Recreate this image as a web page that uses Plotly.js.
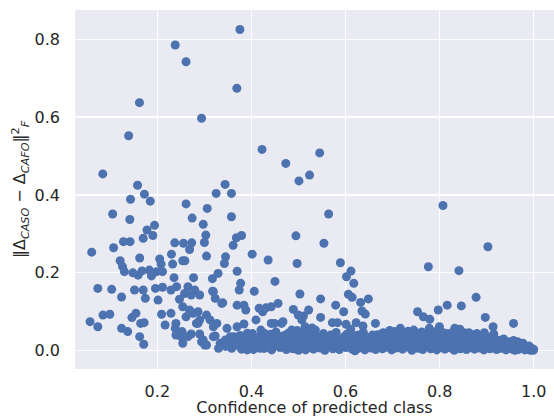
<!DOCTYPE html>
<html>
<head>
<meta charset="utf-8">
<script src="https://cdn.plot.ly/plotly-3.0.1.min.js"></script>
<style>html,body{margin:0;padding:0;background:#fff;}#chart{width:554px;height:417px;}</style>
</head>
<body>
<div id="chart"></div>
<script>
// Outliers (high values)
const highX = [0.3755,0.238,0.261,0.369,0.162,0.294,0.139,0.084,0.4225,0.473,0.501,0.5235,0.545,0.158,0.1725,0.143,0.185,0.344,0.325,0.3575,0.261,0.105,0.1415,0.194,0.178,0.306,0.274,0.2975,0.3575,0.807,0.564];
const highY = [0.825,0.785,0.742,0.674,0.637,0.597,0.552,0.454,0.517,0.481,0.436,0.451,0.508,0.425,0.402,0.389,0.384,0.427,0.404,0.404,0.377,0.351,0.337,0.322,0.310,0.3655,0.3405,0.3245,0.344,0.373,0.351];

// Middle values
const midX = [0.1905,0.170,0.128,0.142,0.107,0.0605,0.1625,0.121,0.126,0.130,0.148,0.159,0.1675,0.183,0.1875,0.1985,0.211,0.205,0.208,0.230,0.2325,0.237,0.2555,0.273,0.2685,0.254,0.2585,0.303,0.300,0.3045,0.379,0.368,0.361,0.345,0.3425,0.3695,0.4015,0.4355,0.4945,0.497,0.450,0.503,0.406,0.377,0.374,0.329,0.317,0.277,0.2355,0.0735,0.103,0.124,0.1515,0.170,0.1745,0.196,0.211,0.229,0.241,0.2015,0.265,0.2795,0.290,0.272,0.258,0.247,0.3175,0.323,0.339,0.3695,0.384,0.388,0.4165,0.431,0.442,0.4565,0.489,0.254,0.2685,0.424,0.554,0.9025,0.589,0.6115,0.602,0.6175,0.776,0.841,0.547,0.606,0.614,0.632,0.6485,0.579,0.5215,0.8775,0.846,0.816,0.797,0.319,0.337,0.635,0.753];
const midY = [0.296,0.2885,0.280,0.280,0.2645,0.253,0.238,0.231,0.216,0.203,0.200,0.194,0.205,0.207,0.192,0.203,0.203,0.2355,0.2225,0.248,0.2225,0.277,0.276,0.277,0.260,0.231,0.231,0.297,0.278,0.243,0.296,0.290,0.2705,0.241,0.224,0.204,0.248,0.233,0.295,0.224,0.178,0.1455,0.1525,0.173,0.156,0.1985,0.185,0.1875,0.1875,0.160,0.1575,0.138,0.156,0.156,0.1345,0.160,0.163,0.156,0.1645,0.130,0.1645,0.156,0.143,0.143,0.147,0.132,0.153,0.1345,0.123,0.117,0.117,0.1045,0.109,0.110,0.113,0.1215,0.106,0.113,0.1045,0.100,0.276,0.267,0.226,0.2045,0.190,0.173,0.2155,0.2055,0.133,0.145,0.137,0.124,0.133,0.117,0.1045,0.137,0.115,0.117,0.1045,0.1515,0.1215,0.102,0.100];

// Low scattered values
const lowX = [0.5105,0.0845,0.099,0.057,0.0735,0.124,0.137,0.146,0.1545,0.1645,0.172,0.1625,0.171,0.209,0.2165,0.229,0.2395,0.238,0.2505,0.254,0.261,0.276,0.2865,0.290,0.3045,0.312,0.2865,0.319,0.3265,0.272,0.290,0.294,0.3045,0.323,0.3335,0.348,0.3625,0.3695,0.384,0.355,0.377,0.391,0.391,0.4095,0.4115,0.4275,0.442,0.442,0.4565,0.464,0.471,0.4855,0.4995,0.507,0.514,0.521,0.4925,0.4275,0.2525,0.265,0.2395,0.596,0.642,0.6635,0.7655,0.779,0.897,0.9135,0.895,0.915,0.957,0.7995,0.832,0.843,0.8515,0.810,0.547,0.572,0.583,0.601,0.6225,0.637,0.7165,0.745,0.680,0.702,0.872,0.933,0.9655,0.536,0.507,0.5645,0.6585,0.7525,0.4995,0.778,0.301,0.33,0.4345,0.485,0.283,0.391,0.42,0.449,0.467,0.478,0.449,0.319,0.2975,0.3445,0.3695];
const lowY = [0.089,0.0915,0.0935,0.0745,0.0615,0.0575,0.049,0.085,0.096,0.070,0.072,0.036,0.0165,0.0935,0.066,0.096,0.070,0.0575,0.036,0.019,0.087,0.096,0.100,0.079,0.0915,0.079,0.070,0.0615,0.070,0.043,0.043,0.023,0.0145,0.038,0.019,0.0575,0.036,0.0615,0.0685,0.010,0.010,0.002,0.040,0.079,0.019,0.0445,0.070,0.010,0.036,0.070,0.010,0.053,0.036,0.079,0.0615,0.010,0.006,0.006,0.049,0.036,0.040,0.100,0.094,0.070,0.087,0.0805,0.0855,0.0615,0.046,0.043,0.070,0.0615,0.0575,0.055,0.046,0.0445,0.0855,0.072,0.072,0.068,0.072,0.0635,0.0575,0.053,0.046,0.043,0.036,0.0275,0.023,0.053,0.0445,0.036,0.036,0.040,0.0915,0.0575,0.0146,0.006,0.0146,0.006,0.070,0.0445,0.053,0.070,0.0745,0.0445,0.036,0.036,0.0275,0.0275,0.0275];

// Dense band near zero
const bandX = [0.352,0.358,0.366,0.372,0.379,0.386,0.393,0.398,0.404,0.409,0.415,0.421,0.426,0.432,0.437,0.443,0.447,0.452,0.456,0.461,0.466,0.470,0.474,0.478,0.483,
0.487,0.490,0.494,0.497,0.501,0.504,0.508,0.511,0.515,0.518,0.522,0.525,0.529,0.532,0.535,0.539,0.542,0.546,0.549,0.553,0.556,0.559,0.563,0.566,0.570,0.573,0.576,0.580,0.583,0.587,0.590,0.594,0.597,0.601,0.604,0.607,0.611,0.614,0.617,0.621,0.624,0.627,0.631,0.634,0.638,0.641,0.644,0.648,0.651,0.654,0.658,0.661,0.664,0.668,0.671,0.674,0.678,0.681,0.684,0.688,0.691,0.694,0.698,0.701,
0.704,0.707,0.711,0.714,0.717,0.721,0.724,0.727,0.731,0.734,0.737,0.741,0.744,0.747,0.751,0.754,0.757,0.761,0.764,0.767,0.771,0.774,0.777,0.781,0.784,0.787,0.791,0.794,0.797,0.801,0.804,0.807,0.811,0.814,0.817,0.821,0.824,0.827,0.831,0.834,0.837,0.841,0.844,0.847,0.851,0.854,0.857,0.861,0.864,0.867,0.871,0.874,0.877,0.881,0.884,0.887,0.891,0.894,0.897,0.901,
0.904,0.907,0.911,0.914,0.917,0.921,0.924,0.927,0.931,0.934,0.937,0.941,0.944,0.947,0.951,0.954,0.957,0.961,0.964,0.967,0.971,0.974,0.977,0.981,0.984,0.987,0.990,0.993,0.995,0.997,0.999,0.9995,
0.50,0.55,0.62,0.66,0.72,0.76,0.79,0.83,0.86,0.92,0.96,0.98];
const bandY = [0.028,0.006,0.018,0.031,0.004,0.022,0.012,0.034,0.003,0.025,0.014,0.041,0.007,0.021,0.031,0.002,0.016,0.048,0.027,0.008,0.019,0.039,0.003,0.024,0.012,
0.033,0.005,0.018,0.052,0.027,0.009,0.014,0.038,0.002,0.022,0.031,0.011,0.058,0.004,0.025,0.016,0.035,0.007,0.021,0.044,0.001,0.029,0.012,0.019,0.032,0.005,0.024,0.047,0.014,0.003,0.027,0.018,0.036,0.008,0.022,0.013,0.055,0.004,0.029,0.017,0.039,0.006,0.023,0.012,0.046,0.002,0.026,0.015,0.033,0.007,0.019,0.028,0.003,0.041,0.011,0.022,0.005,0.031,0.016,0.009,0.025,0.052,0.002,0.018,
0.033,0.007,0.021,0.012,0.038,0.004,0.026,0.015,0.047,0.009,0.019,0.001,0.029,0.013,0.022,0.006,0.035,0.017,0.003,0.024,0.011,0.044,0.019,0.005,0.028,0.014,0.032,0.002,0.021,0.009,0.039,0.016,0.004,0.025,0.012,0.031,0.007,0.019,0.001,0.027,0.014,0.022,0.005,0.034,0.011,0.018,0.003,0.026,0.009,0.015,0.041,0.004,0.021,0.012,0.007,0.028,0.016,0.002,0.019,0.010,
0.024,0.005,0.014,0.009,0.031,0.003,0.018,0.011,0.006,0.022,0.014,0.002,0.017,0.008,0.012,0.004,0.026,0.009,0.015,0.003,0.011,0.006,0.019,0.002,0.008,0.004,0.012,0.001,0.006,0.003,0.001,0.004,
0.001,0.010,0.000,0.013,0.016,0.009,0.010,0.008,0.013,0.007,0.001,0.005];

// Extra band points filling the thick part of the band
const fillX = [0.345,0.355,0.362,0.369,0.376,0.383,0.389,0.396,0.402,0.412,0.418,0.424,0.429,0.435,0.441,0.450,0.458,0.464,0.472,0.480,0.485,0.492,0.499,0.506,0.513,0.520,0.527,0.534,0.541,0.548,0.555,0.561,0.568,0.575,0.582,0.589,0.596,0.603,0.610,0.616,0.623,0.630,0.636,0.643,0.650,0.657,0.663,0.670,0.676,0.683,0.690,0.696,0.703,0.709,0.716,0.723,0.729,0.736,0.742,0.749,0.756,0.762,0.769,0.776,0.782,0.789,0.796,0.802,0.809,0.816,0.822,0.829,0.836,0.842,0.849,0.856,0.862,0.869,0.876,0.882,0.889,0.896,0.902,0.909,0.916,0.922,0.929,0.936,0.942,0.949,0.956,0.962,0.969,0.976,0.983,0.989,
0.690,0.705,0.719,0.733,0.748,0.762,0.778,0.792,0.806,0.819,0.833,0.848,0.862,0.879,0.893];
const fillY = [0.011,0.036,0.024,0.014,0.039,0.009,0.028,0.018,0.044,0.032,0.006,0.027,0.037,0.013,0.042,0.033,0.011,0.036,0.026,0.042,0.019,0.029,0.041,0.021,0.031,0.043,0.017,0.038,0.026,0.011,0.034,0.021,0.040,0.015,0.030,0.009,0.025,0.043,0.020,0.034,0.028,0.041,0.016,0.033,0.023,0.040,0.013,0.031,0.042,0.021,0.036,0.012,0.044,0.027,0.020,0.041,0.031,0.024,0.040,0.016,0.028,0.043,0.033,0.026,0.038,0.021,0.042,0.027,0.033,0.020,0.040,0.025,0.036,0.015,0.039,0.030,0.022,0.035,0.018,0.040,0.026,0.031,0.016,0.035,0.022,0.027,0.018,0.030,0.011,0.023,0.015,0.021,0.008,0.014,0.010,0.006,
0.046,0.049,0.045,0.050,0.046,0.048,0.045,0.049,0.047,0.044,0.048,0.043,0.046,0.044,0.040];

const xs = [].concat(highX, midX, lowX, bandX, fillX);
const ys = [].concat(highY, midY, lowY, bandY, fillY);

const font = {family: 'DejaVu Sans', size: 16, color: '#262626'};

Plotly.newPlot('chart', [{
  type: 'scatter', mode: 'markers', x: xs, y: ys,
  marker: {color: '#4C72B0', size: 9, line: {width: 0}},
  hoverinfo: 'none'
}], {
  width: 554, height: 417,
  margin: {l: 75, r: 0, t: 10, b: 48},
  paper_bgcolor: '#ffffff', plot_bgcolor: '#EAEAF2',
  font: font,
  showlegend: false,
  xaxis: {
    range: [0.025, 1.043], tick0: 0, dtick: 0.2, tickformat: '.1f',
    showgrid: true, gridcolor: '#ffffff', gridwidth: 1.3, zeroline: false,
    showline: false, ticks: '', ticklabelstandoff: 11,
    tickfont: font,
    title: {text: 'Confidence of predicted class', font: font, standoff: 3}
  },
  yaxis: {
    range: [-0.047, 0.875], tick0: 0, dtick: 0.2, tickformat: '.1f',
    showgrid: true, gridcolor: '#ffffff', gridwidth: 1.3, zeroline: false,
    showline: false, ticks: '', ticklabelstandoff: 14,
    tickfont: font,
    title: {text: '‖Δ<sub><i>CASO</i></sub> − Δ<sub><i>CAFO</i></sub>‖<sup>2</sup><sub><i>F</i></sub>', font: font, standoff: 4}
  }
}, {displayModeBar: false, staticPlot: true});
</script>
</body>
</html>
